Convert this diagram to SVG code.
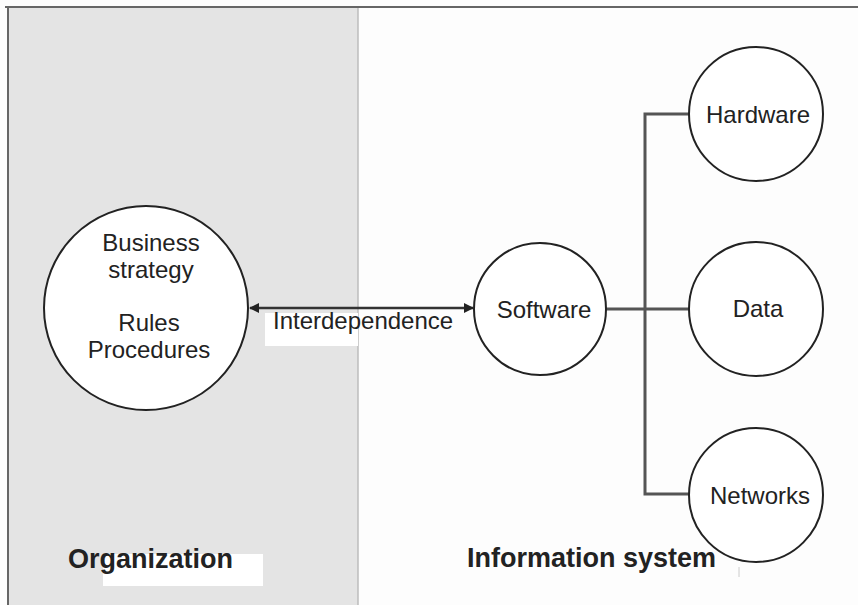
<svg xmlns="http://www.w3.org/2000/svg" width="858" height="605" viewBox="0 0 858 605">
  <style>
    .node { fill: #ffffff; stroke: #222222; stroke-width: 2; }
    .label { font-family: "Liberation Sans", Arial, sans-serif; font-size: 24px; fill: #222222; text-anchor: middle; }
    .title { font-family: "Liberation Sans", Arial, sans-serif; font-size: 27px; font-weight: bold; fill: #222222; }
    .tree { fill: none; stroke: #555555; stroke-width: 3; }
    .link { fill: none; stroke: #333333; stroke-width: 2.5; }
  </style>
  <defs>
    <marker id="head" viewBox="0 0 10 10" refX="9" refY="5" markerWidth="4" markerHeight="4" orient="auto-start-reverse" markerUnits="strokeWidth">
      <path d="M0,0 L10,5 L0,10 z" fill="#222222"/>
    </marker>
  </defs>

  <!-- page background -->
  <rect x="0" y="0" width="858" height="605" fill="#fdfdfd"/>

  <!-- organization panel -->
  <rect x="8" y="8" width="350" height="597" fill="#e4e4e4"/>
  <line x1="358" y1="8" x2="358" y2="605" stroke="#bdbdbd" stroke-width="1.5"/>
  <line x1="8" y1="7" x2="8" y2="605" stroke="#666666" stroke-width="2"/>
  <line x1="5" y1="7" x2="858" y2="7" stroke="#666666" stroke-width="2"/>

  <!-- label backings -->
  <rect x="265" y="313" width="93" height="33" fill="#ffffff"/>
  <rect x="103" y="554" width="160" height="32" fill="#ffffff"/>
  <line x1="739" y1="567" x2="739" y2="577" stroke="#cccccc" stroke-width="1"/>

  <!-- connectors -->
  <g id="connectors">
    <line class="link" x1="250" y1="308" x2="473" y2="308" marker-start="url(#head)" marker-end="url(#head)"/>
    <path class="tree" d="M606,309 H689 M689,114 H645 V494 H689"/>
  </g>

  <!-- nodes -->
  <g id="organization-core">
    <circle class="node" cx="146" cy="308" r="102"/>
    <text class="label" x="151" y="251">Business</text>
    <text class="label" x="151" y="278">strategy</text>
    <text class="label" x="149" y="331">Rules</text>
    <text class="label" x="149" y="358">Procedures</text>
  </g>

  <g id="software">
    <circle class="node" cx="540" cy="309" r="66"/>
    <text class="label" x="544" y="318">Software</text>
  </g>

  <g id="hardware">
    <circle class="node" cx="756" cy="114" r="67"/>
    <text class="label" x="758" y="123">Hardware</text>
  </g>

  <g id="data">
    <circle class="node" cx="756" cy="309" r="67"/>
    <text class="label" x="758" y="317">Data</text>
  </g>

  <g id="networks">
    <circle class="node" cx="756" cy="495" r="67"/>
    <text class="label" x="760" y="504">Networks</text>
  </g>

  <!-- edge and section labels -->
  <text class="label" x="273" y="329" style="text-anchor:start">Interdependence</text>
  <text class="title" x="68" y="568">Organization</text>
  <text class="title" x="467" y="567">Information system</text>
</svg>
